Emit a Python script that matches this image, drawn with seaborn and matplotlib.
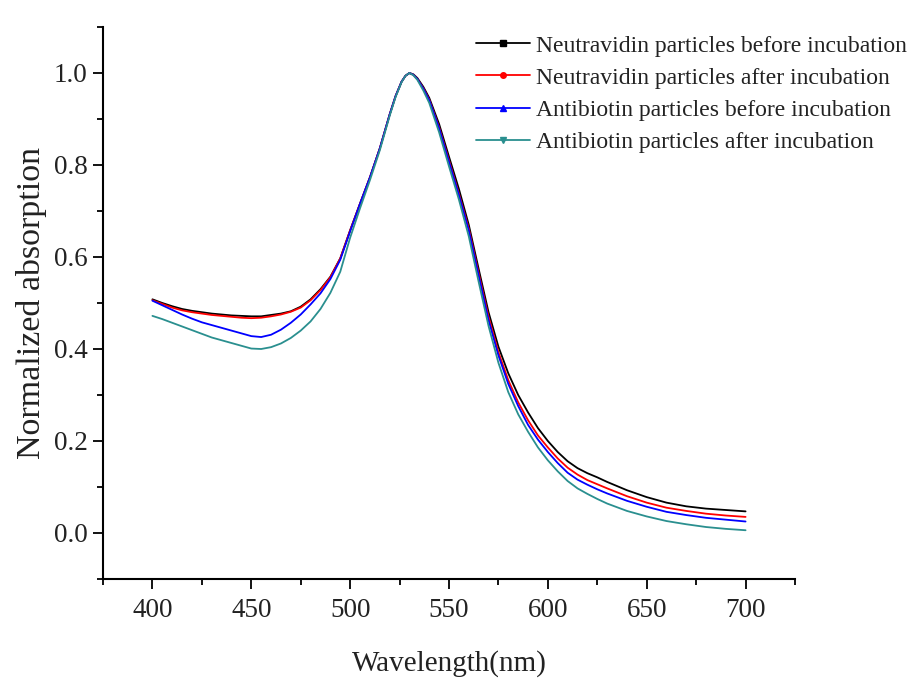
#!/usr/bin/env python3
import matplotlib
matplotlib.use("Agg")
import matplotlib.pyplot as plt
from matplotlib.lines import Line2D
from matplotlib.ticker import MultipleLocator, FormatStrFormatter
import seaborn as sns
import pandas as pd

# wavelength grid (nm)
wavelength = [400, 405, 410, 415, 420, 425, 430, 435, 440, 445, 450, 455, 460, 465,
              470, 475, 480, 485, 490, 495, 500, 505, 510, 515, 520, 523, 526, 528,
              530, 532, 534, 537, 540, 545, 550, 555, 560, 565, 570, 575, 580, 585,
              590, 595, 600, 605, 610, 615, 620, 625, 630, 640, 650, 660, 670, 680,
              690, 700]

neutravidin_before = [0.508, 0.500, 0.493, 0.487, 0.483, 0.480, 0.477, 0.475, 0.473, 0.472,
                      0.471, 0.471, 0.474, 0.477, 0.482, 0.492, 0.508, 0.530, 0.557, 0.597,
                      0.658, 0.716, 0.773, 0.836, 0.910, 0.950, 0.981, 0.994, 1.000, 0.997,
                      0.989, 0.970, 0.946, 0.889, 0.818, 0.748, 0.670, 0.574, 0.480, 0.405,
                      0.347, 0.300, 0.262, 0.228, 0.200, 0.176, 0.156, 0.141, 0.130, 0.121,
                      0.111, 0.093, 0.078, 0.066, 0.058, 0.053, 0.050, 0.047]

neutravidin_after = [0.506, 0.498, 0.490, 0.484, 0.480, 0.477, 0.474, 0.472, 0.470, 0.468,
                     0.467, 0.468, 0.471, 0.475, 0.481, 0.490, 0.506, 0.528, 0.556, 0.597,
                     0.658, 0.716, 0.773, 0.836, 0.910, 0.950, 0.981, 0.994, 1.000, 0.996,
                     0.987, 0.967, 0.942, 0.882, 0.810, 0.738, 0.662, 0.565, 0.470, 0.393,
                     0.332, 0.284, 0.245, 0.212, 0.186, 0.162, 0.142, 0.127, 0.115, 0.106,
                     0.097, 0.080, 0.066, 0.055, 0.048, 0.042, 0.038, 0.035]

antibiotin_before = [0.505, 0.495, 0.485, 0.475, 0.466, 0.458, 0.452, 0.446, 0.440, 0.434,
                     0.428, 0.426, 0.431, 0.442, 0.457, 0.475, 0.497, 0.521, 0.552, 0.594,
                     0.656, 0.716, 0.773, 0.836, 0.910, 0.950, 0.981, 0.994, 1.000, 0.996,
                     0.987, 0.966, 0.941, 0.880, 0.807, 0.735, 0.658, 0.560, 0.463, 0.386,
                     0.324, 0.276, 0.235, 0.203, 0.176, 0.152, 0.131, 0.116, 0.105, 0.095,
                     0.086, 0.070, 0.057, 0.046, 0.039, 0.033, 0.029, 0.025]

antibiotin_after = [0.472, 0.465, 0.457, 0.449, 0.441, 0.433, 0.425, 0.419, 0.413, 0.407,
                    0.401, 0.400, 0.404, 0.412, 0.424, 0.440, 0.460, 0.487, 0.522, 0.568,
                    0.642, 0.706, 0.767, 0.832, 0.907, 0.948, 0.980, 0.994, 1.000, 0.995,
                    0.985, 0.962, 0.935, 0.871, 0.797, 0.725, 0.645, 0.546, 0.450, 0.370,
                    0.306, 0.258, 0.220, 0.186, 0.158, 0.134, 0.113, 0.097, 0.085, 0.074,
                    0.064, 0.048, 0.036, 0.026, 0.019, 0.013, 0.009, 0.006]

labels = ["Neutravidin particles before incubation",
          "Neutravidin particles after incubation",
          "Antibiotin particles before incubation",
          "Antibiotin particles after incubation"]
colors = ["black", "#ff0000", "#0000ff", "#2a8f8f"]
markers = ["s", "o", "^", "v"]

series = [neutravidin_before, neutravidin_after, antibiotin_before, antibiotin_after]
frames = [pd.DataFrame({"wl": wavelength, "val": vals, "sample": lab})
          for lab, vals in zip(labels, series)]
df = pd.concat(frames, ignore_index=True)

sns.set_style("ticks")
plt.rcParams["font.family"] = ["Liberation Serif", "DejaVu Serif"]

fig = plt.figure(figsize=(9.13, 6.79), dpi=100)
ax = fig.add_axes([103 / 913, 1 - 579 / 679, (795 - 103) / 913, (579 - 27) / 679])

sns.lineplot(data=df, x="wl", y="val", hue="sample", hue_order=labels,
             palette=dict(zip(labels, colors)), linewidth=1.3, ax=ax, legend=False,
             sort=False)

ax.set_xlim(375, 725)
ax.set_ylim(-0.1, 1.1)
ax.xaxis.set_major_locator(MultipleLocator(50))
ax.xaxis.set_minor_locator(MultipleLocator(25))
ax.yaxis.set_major_locator(MultipleLocator(0.2))
ax.yaxis.set_minor_locator(MultipleLocator(0.1))
ax.yaxis.set_major_formatter(FormatStrFormatter("%.1f"))
ax.tick_params(which="major", direction="out", length=7, width=1.3, labelsize=19.5,
               color="black", labelcolor="#222222")
ax.tick_params(which="minor", direction="out", length=4.5, width=1.3, color="black")
ax.tick_params(axis="x", pad=7)
ax.tick_params(axis="y", pad=4)

sns.despine(ax=ax)
for side in ["left", "bottom"]:
    ax.spines[side].set_linewidth(1.5)
    ax.spines[side].set_color("black")

ax.set_xlabel("Wavelength(nm)", fontsize=21, color="#222222", labelpad=19)
ax.set_ylabel("Normalized absorption", fontsize=24.5, color="#222222", labelpad=5)

handles = [Line2D([0], [0], color=c, marker=m, markersize=4, linewidth=1.3)
           for c, m in zip(colors, markers)]
fig.legend(handles, labels, loc="upper left", bbox_to_anchor=(476 / 913, 1 - 35 / 679),
           frameon=False, fontsize=17, handlelength=2.3, handletextpad=0.25,
           labelspacing=0.45, borderpad=0, borderaxespad=0, labelcolor="#222222")

fig.savefig("out.png", dpi=100)
